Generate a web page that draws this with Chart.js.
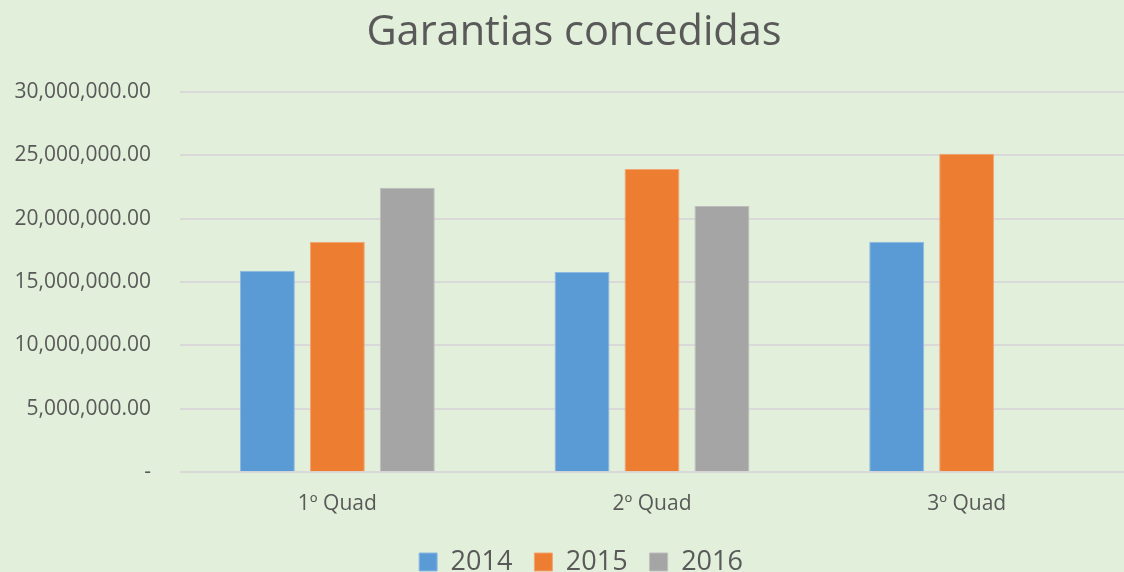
<!DOCTYPE html>
<html>
<head>
<meta charset="utf-8">
<script src="https://cdn.jsdelivr.net/npm/chart.js@4/dist/chart.umd.min.js"></script>
<style>
  html, body { margin: 0; padding: 0; background: #E2EFDA; }
  #wrap { width: 1124px; height: 572px; }
</style>
</head>
<body>
<div id="wrap"><canvas id="chart"></canvas></div>
<script>
// data
var categories = ['1º Quad', '2º Quad', '3º Quad'];
var series2014 = [15890000, 15790000, 18180000];
var series2015 = [18180000, 23910000, 25120000];
var series2016 = [22440000, 20990000, null];
var yTicks = [0, 5000000, 10000000, 15000000, 20000000, 25000000, 30000000];

var TXT = '#595959';
var FONT = "'Open Sans', sans-serif";

// nudge title and legend a little right, like the original
var shiftBlocks = {
  id: 'shiftBlocks',
  afterLayout: function (chart) {
    if (chart.titleBlock) { chart.titleBlock.left += 12; chart.titleBlock.right += 12; }
    if (chart.legend) { chart.legend.left += 19; chart.legend.right += 19; }
  }
};

new Chart(document.getElementById('chart'), {
  type: 'bar',
  data: {
    labels: categories,
    datasets: [
      { label: '2014', data: series2014, backgroundColor: '#5B9BD5', borderColor: '#8DB9E3', borderWidth: 1 },
      { label: '2015', data: series2015, backgroundColor: '#ED7D31', borderColor: '#F2A474', borderWidth: 1 },
      { label: '2016', data: series2016, backgroundColor: '#A5A5A5', borderColor: '#BDBDBD', borderWidth: 1 }
    ]
  },
  plugins: [shiftBlocks],
  options: {
    responsive: true, maintainAspectRatio: false,
    animation: false,
    categoryPercentage: 0.667,
    barPercentage: 0.786,
    layout: { padding: { left: 0, right: 0, top: 8, bottom: -13.5 } },
    plugins: {
      title: {
        display: true, text: 'Garantias concedidas', color: TXT,
        font: { family: FONT, size: 41.5, weight: 'normal' },
        padding: { top: 0, bottom: 34 }
      },
      legend: {
        position: 'bottom',
        labels: {
          color: TXT, boxWidth: 18, boxHeight: 18, padding: 22,
          font: { family: FONT, size: 27 }
        }
      },
      tooltip: { enabled: false }
    },
    scales: {
      x: {
        grid: { display: false },
        border: { display: false },
        afterFit: function (s) { s.height -= 1; },
        ticks: { color: TXT, font: { family: FONT, size: 21 }, padding: 11 }
      },
      y: {
        min: 0, max: 30000000,
        afterFit: function (s) { s.width = 180; },
        afterBuildTicks: function (s) { s.ticks = yTicks.map(function (v) { return { value: v }; }); },
        grid: { color: '#D9D9D9', lineWidth: 2, drawTicks: false },
        border: { display: false },
        ticks: {
          color: TXT, padding: 29,
          font: { family: FONT, size: 21 },
          callback: function (v) {
            return v === 0 ? '-' : v.toLocaleString('en-US', { minimumFractionDigits: 2, maximumFractionDigits: 2 });
          }
        }
      }
    }
  }
});
</script>
</body>
</html>
